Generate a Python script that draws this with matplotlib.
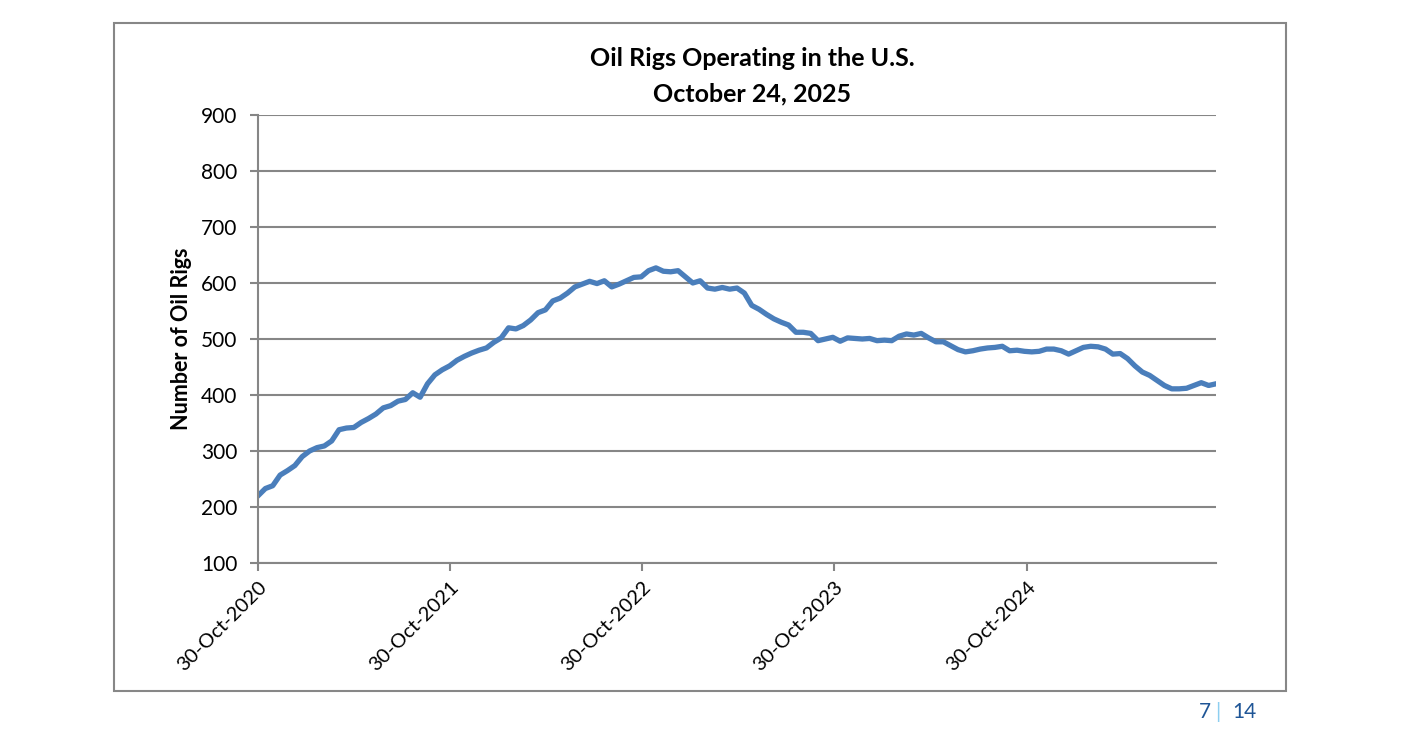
import numpy as np
import pandas as pd
import matplotlib
matplotlib.use("Agg")
import matplotlib.pyplot as plt
import matplotlib.dates as mdates
from matplotlib.patches import Rectangle

plt.rcParams['font.family'] = ['Lato', 'DejaVu Sans']

# biweekly readings, 30-Oct-2020 .. 24-Oct-2025
dates = pd.date_range("2020-10-30", "2025-10-24", freq="14D")
rigs = [220, 233, 238, 257, 265, 274, 290, 300, 306, 309,
        318, 338, 341, 342, 351, 358, 366, 377, 381, 389,
        392, 404, 396, 420, 436, 445, 452, 462, 469, 475,
        480, 484, 494, 502, 520, 518, 524, 534, 547, 552,
        568, 573, 582, 593, 598, 603, 599, 604, 593, 598,
        604, 610, 611, 622, 627, 621, 620, 622, 611, 600,
        604, 591, 589, 592, 589, 591, 582, 560, 553, 544,
        536, 530, 525, 512, 512, 510, 497, 500, 503, 496,
        502, 501, 500, 501, 497, 498, 497, 505, 509, 507,
        510, 502, 495, 495, 488, 481, 477, 479, 482, 484,
        485, 487, 479, 480, 478, 477, 478, 482, 482, 479,
        473, 479, 485, 487, 486, 482, 473, 474, 465, 452,
        441, 435, 426, 417, 411, 411, 412, 417, 422, 417,
        420]
tick_dates = pd.to_datetime(["2020-10-30", "2021-10-30", "2022-10-30",
                             "2023-10-30", "2024-10-30"])
yticks = np.arange(100, 901, 100)

W, H = 1401, 733
fig = plt.figure(figsize=(W / 100, H / 100), dpi=100)
fig.patches.append(Rectangle((114 / W, 1 - 691 / H), (1286 - 114) / W, (691 - 23) / H,
                             transform=fig.transFigure, fill=False,
                             edgecolor="#878787", linewidth=1.5))

ax = fig.add_axes([258 / W, 1 - 563 / H, (1216 - 258) / W, (563 - 115) / H])
ax.plot(dates, rigs, color="#4A7EBB", linewidth=3.8, solid_joinstyle="round")

ax.set_ylim(100, 900)
ax.set_yticks(yticks)
ax.set_xlim(pd.Timestamp("2020-10-30"), pd.Timestamp("2025-10-24"))
ax.set_xticks(tick_dates)
ax.xaxis.set_major_formatter(mdates.DateFormatter("%d-%b-%Y"))
ax.grid(axis="y", color="#868686", linewidth=1.5)
ax.set_axisbelow(True)

for s in ["top", "right"]:
    ax.spines[s].set_visible(False)
for s in ["left", "bottom"]:
    ax.spines[s].set_color("#868686")
    ax.spines[s].set_linewidth(1.5)
ax.tick_params(axis="both", direction="out", length=6, width=1.5, color="#868686",
               labelsize=15, labelcolor="black")
ax.tick_params(axis="x", labelsize=14.5, pad=5)
ax.tick_params(axis="y", pad=9)
for lab in ax.get_xticklabels():
    lab.set_rotation(45)
    lab.set_ha("right")
    lab.set_va("top")
    lab.set_rotation_mode("anchor")

fig.text(182 / W, 1 - 339 / H, "Number of Oil Rigs", rotation=90, ha="center", va="center",
         fontsize=15.5, fontweight="bold")

fig.text(752 / W, 1 - 59 / H, "Oil Rigs Operating in the U.S.", ha="center", va="center",
         fontsize=18, fontweight="bold")
fig.text(752 / W, 1 - 94 / H, "October 24, 2025", ha="center", va="center",
         fontsize=18, fontweight="bold")

fig.text(1205 / W, 1 - 712 / H, "7", ha="center", va="center", fontsize=15, color="#1F5596")
fig.text(1218 / W, 1 - 712 / H, "|", ha="center", va="center", fontsize=15, color="#8DCFF0")
fig.text(1244 / W, 1 - 712 / H, "14", ha="center", va="center", fontsize=15, color="#1F5596")

fig.savefig("out.png", dpi=100)
